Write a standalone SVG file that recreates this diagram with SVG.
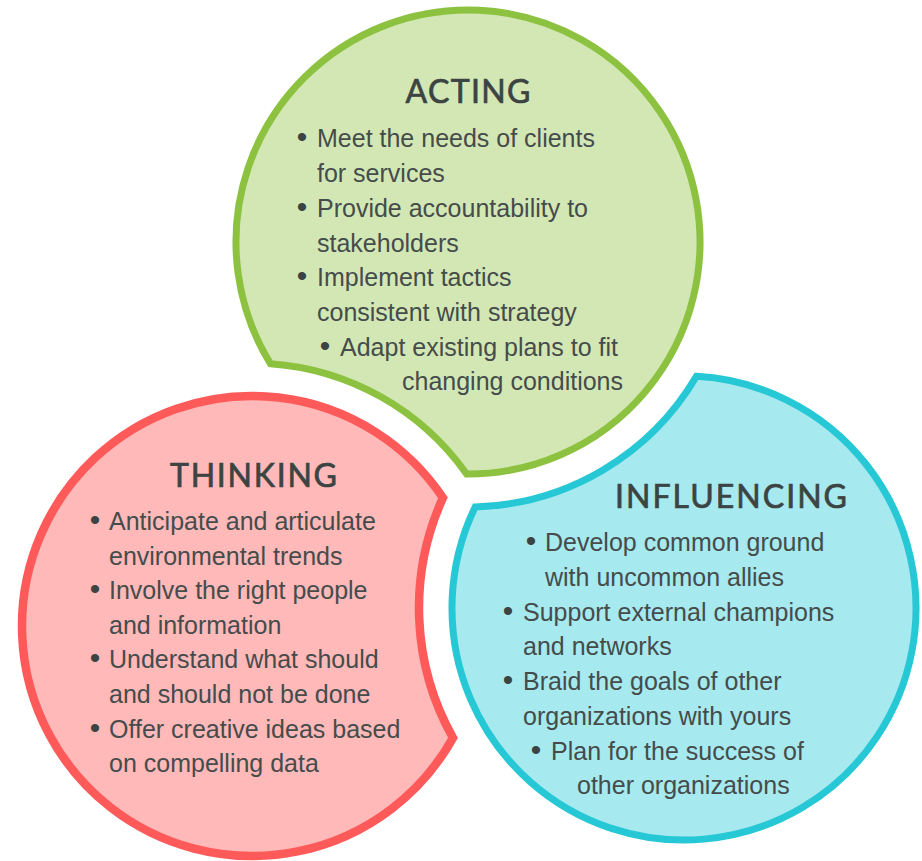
<svg xmlns="http://www.w3.org/2000/svg" width="922" height="861" viewBox="0 0 922 861">
<defs>
<style>
.shape{stroke-linejoin:miter;stroke-miterlimit:10}
.green{fill:#D3E7B5;stroke:#8DC241;stroke-width:7}
.red{fill:#FFB9B9;stroke:#FF5A5A;stroke-width:8.5}
.cyan{fill:#A6E9EE;stroke:#27C8D5;stroke-width:7}
.title{font-family:Lato,"Open Sans","Liberation Sans",sans-serif;font-size:32px;fill:#3B4442;stroke:#3B4442;stroke-width:0.7;text-anchor:middle}
.body{font-family:"Liberation Sans",Arial,sans-serif;font-size:25px;fill:#454C4B}
.bul{font-family:"Liberation Sans",Arial,sans-serif;font-size:30px;fill:#3B4442;text-anchor:middle}
</style>
</defs>
<rect width="922" height="861" fill="#FFFFFF"/>
<g id="connectors"></g>
<g id="node-acting">
<path class="shape green" d="M 270.44 363.64 A 232 232 0 1 1 466.64 474.0 A 263 263 0 0 0 270.44 363.64 Z"/>
<text class="title" x="468" y="103" textLength="125" lengthAdjust="spacing">ACTING</text>
<text class="bul" x="302" y="147">•</text><text class="body" x="317" y="147">Meet the needs of clients</text>
<text class="body" x="317" y="182">for services</text>
<text class="bul" x="302" y="217">•</text><text class="body" x="317" y="217">Provide accountability to</text>
<text class="body" x="317" y="252">stakeholders</text>
<text class="bul" x="302" y="286">•</text><text class="body" x="317" y="286">Implement tactics</text>
<text class="body" x="317" y="321">consistent with strategy</text>
<text class="bul" x="325" y="356">•</text><text class="body" x="340" y="356">Adapt existing plans to fit</text>
<text class="body" x="402" y="390">changing conditions</text>
</g>
<g id="node-thinking">
<path class="shape red" d="M 442.99 497.84 A 230 230 0 1 0 452.99 737.82 A 265 265 0 0 1 442.99 497.84 Z"/>
<text class="title" x="253.5" y="487" textLength="167" lengthAdjust="spacing">THINKING</text>
<text class="bul" x="95" y="530">•</text><text class="body" x="109" y="530">Anticipate and articulate</text>
<text class="body" x="109" y="565">environmental trends</text>
<text class="bul" x="95" y="599">•</text><text class="body" x="109" y="599">Involve the right people</text>
<text class="body" x="109" y="634">and information</text>
<text class="bul" x="95" y="668">•</text><text class="body" x="109" y="668">Understand what should</text>
<text class="body" x="109" y="703">and should not be done</text>
<text class="bul" x="95" y="738">•</text><text class="body" x="109" y="738">Offer creative ideas based</text>
<text class="body" x="109" y="772">on compelling data</text>
</g>
<g id="node-influencing">
<path class="shape cyan" d="M 696.44 376.34 A 232 232 0 1 1 475.18 506.92 A 265 265 0 0 0 696.44 376.34 Z"/>
<text class="title" x="731" y="508" textLength="232" lengthAdjust="spacing">INFLUENCING</text>
<text class="bul" x="531" y="551">•</text><text class="body" x="545" y="551">Develop common ground</text>
<text class="body" x="545" y="586">with uncommon allies</text>
<text class="bul" x="508" y="621">•</text><text class="body" x="523" y="621">Support external champions</text>
<text class="body" x="523" y="655">and networks</text>
<text class="bul" x="508" y="690">•</text><text class="body" x="523" y="690">Braid the goals of other</text>
<text class="body" x="523" y="725">organizations with yours</text>
<text class="bul" x="536" y="760">•</text><text class="body" x="551" y="760">Plan for the success of</text>
<text class="body" x="577" y="794">other organizations</text>
</g>
</svg>
